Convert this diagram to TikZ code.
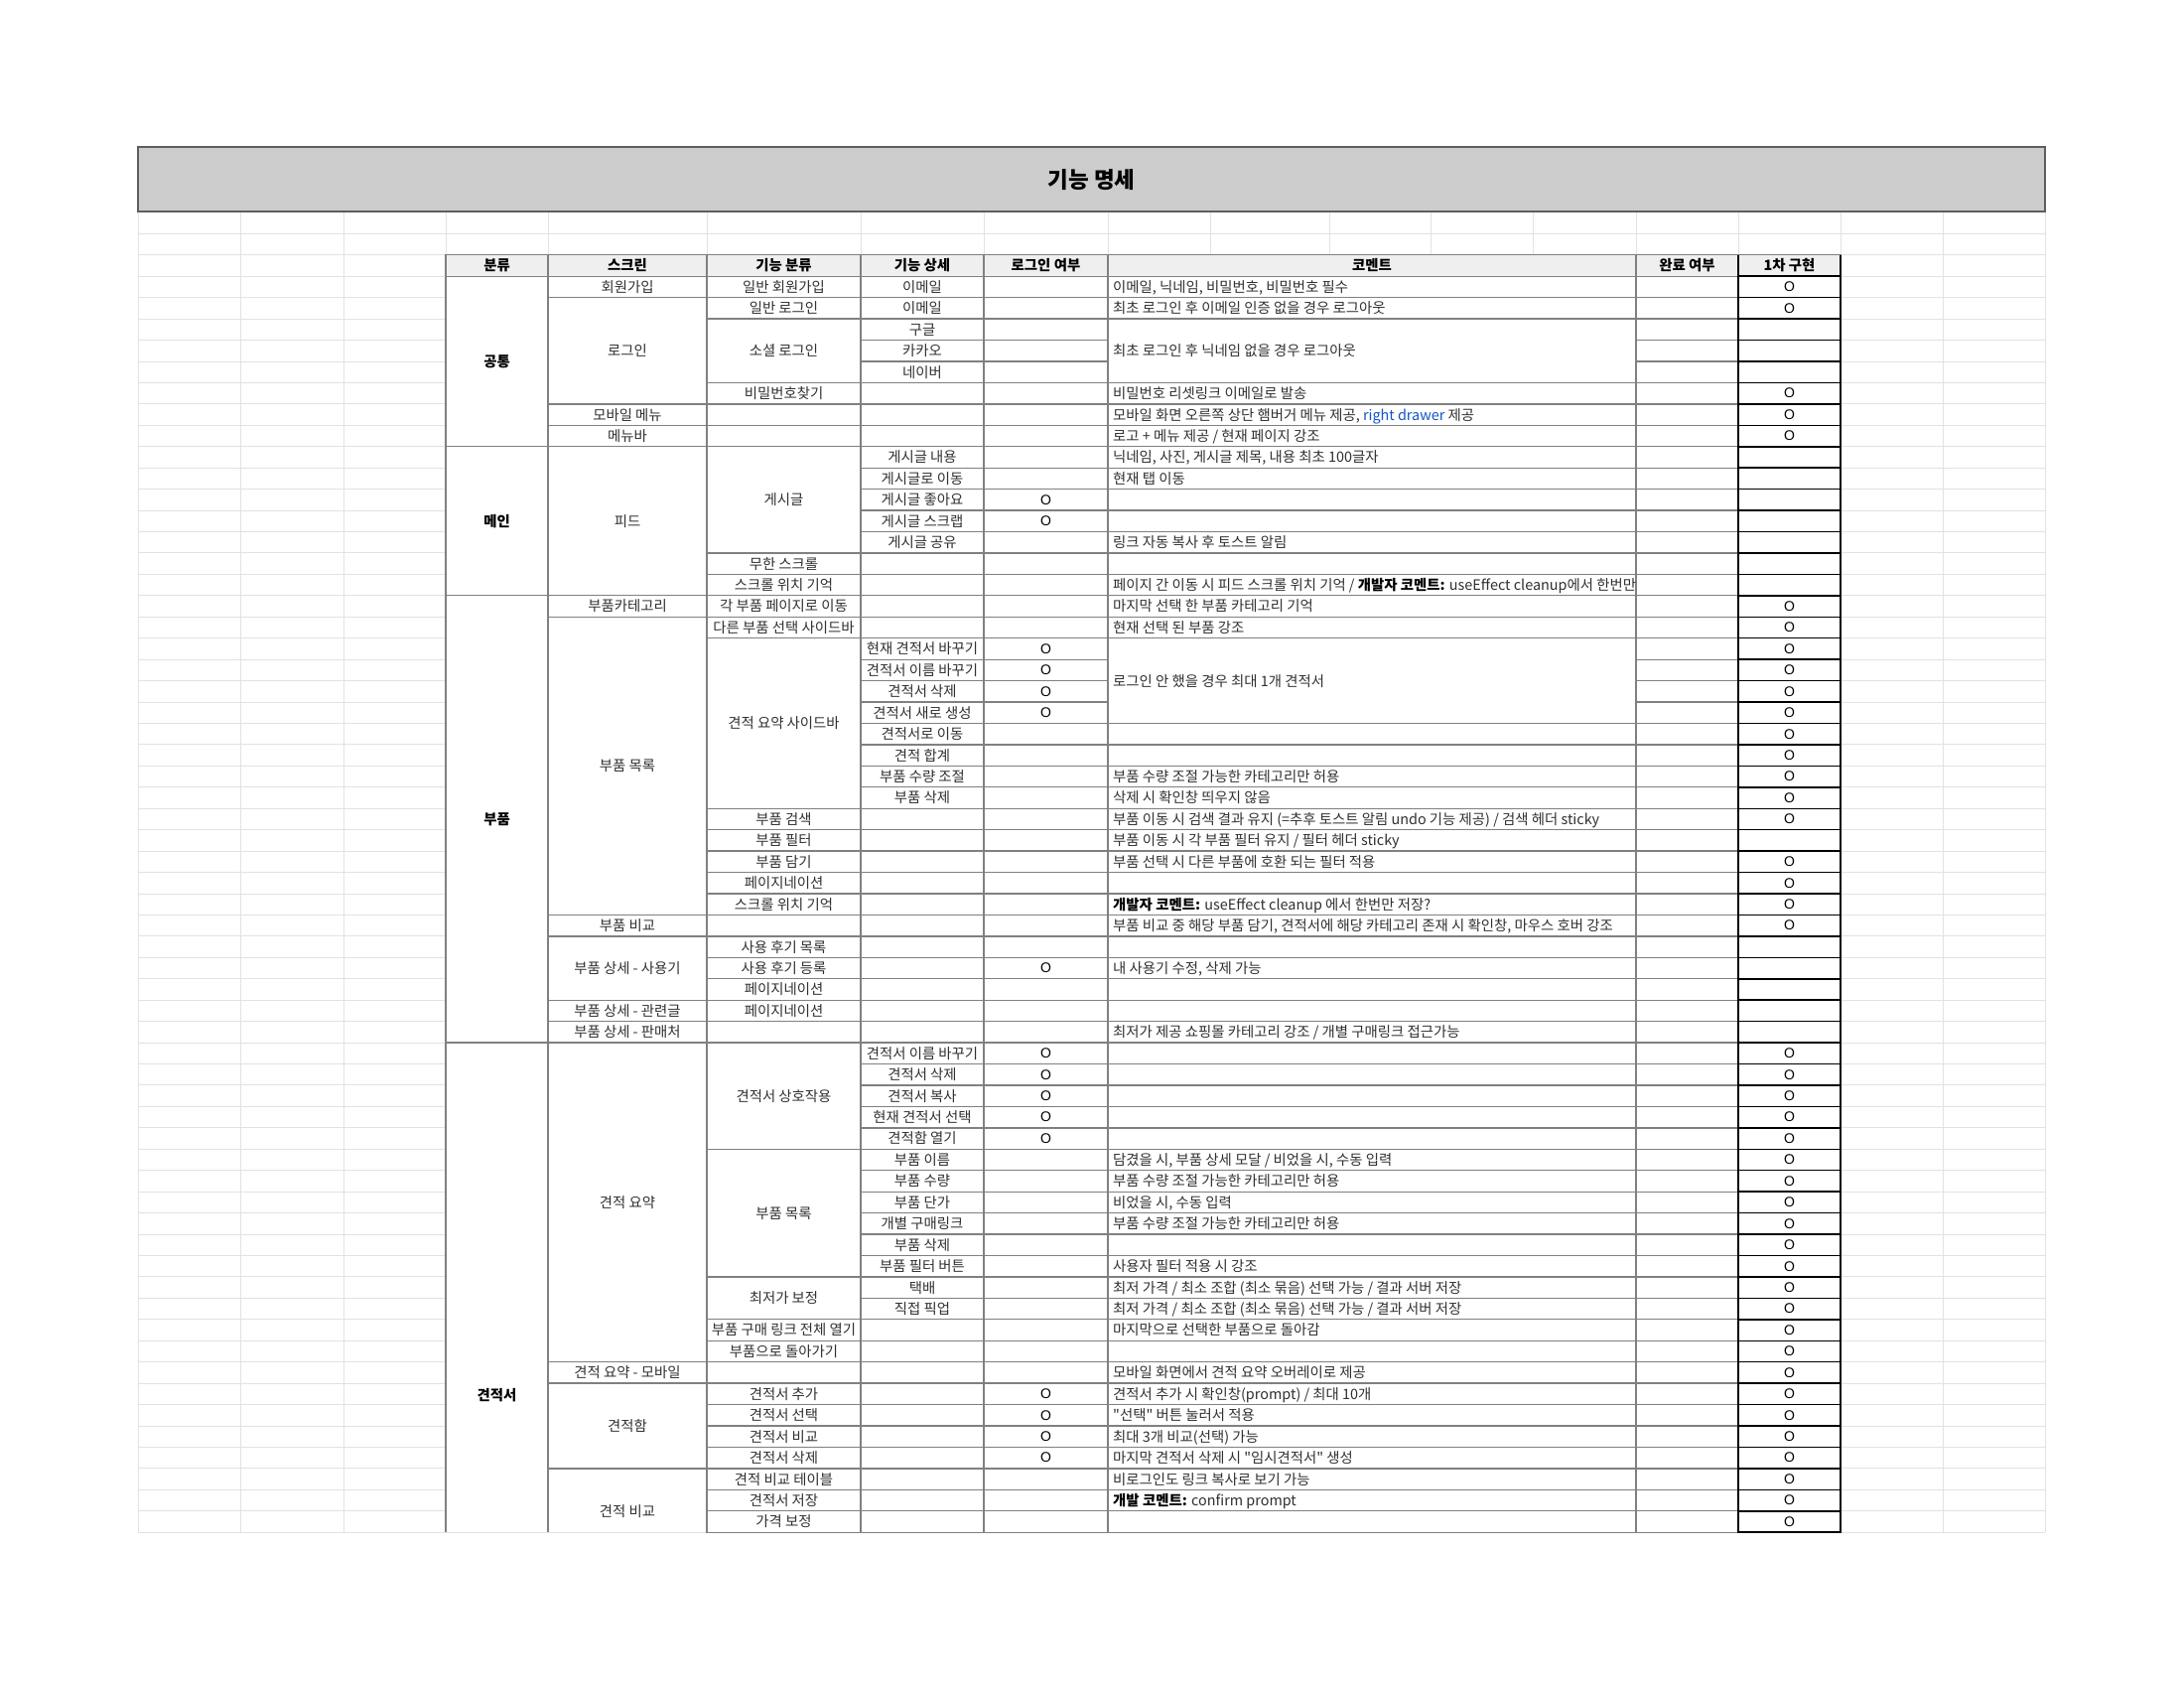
\documentclass[tikz,border=0pt]{standalone}
\usepackage{fontspec}
\setmainfont{Noto Sans CJK KR}[Ligatures=TeXOff]
\newfontfamily\ofont{Liberation Sans}
\definecolor{gridc}{HTML}{E2E2E2}
\definecolor{tblc}{HTML}{808080}
\definecolor{hdrc}{HTML}{EFEFEF}
\definecolor{ttlc}{HTML}{CCCCCC}
\definecolor{ttlb}{HTML}{5E5E5E}
\definecolor{txtc}{HTML}{303030}
\definecolor{linkc}{HTML}{1155CC}
\def\RY#1{(256.8+(#1)*21.44)}
% centered cell: x1 x2 r1 r2 text
\newcommand\cc[5]{%
  \draw[tbl] (#1,{\RY{#3}}) rectangle (#2,{\RY{#4+1}});
  \node[ctext] (n#1x#3) at ({(#1+#2)/2},{\RY{(#3+#4+1)/2}}) {#5};
}
% open-bottom cell: x1 x2 r1 labely text
\newcommand\ccopen[5]{%
  \draw[tbl] (#1,1543.3) -- (#1,{\RY{#3}}) -- (#2,{\RY{#3}}) -- (#2,1543.3);
  \node[ctext] (n#1x#3) at ({(#1+#2)/2},#4) {#5};
}
% comment cell: r1 r2 text
\newcommand\cm[3]{%
  \draw[tbl] (1116,{\RY{#1}}) rectangle (1648,{\RY{#2+1}});
  \node[ltext] (m#1) at (1121,{\RY{(#1+#2+1)/2}}) {#3};
}
\begin{document}
\begin{tikzpicture}[x=1pt,y=-1pt,
  bggrid/.style={draw=gridc, line width=1pt},
  tbl/.style={draw=tblc, line width=1.3pt},
  blk/.style={draw=black, line width=1.5pt},
  ctext/.style={inner sep=0pt, text=txtc, font=\fontsize{14.4}{17}\selectfont, text height=12.2pt, text depth=1.4pt, anchor=center},
  ltext/.style={ctext, anchor=west},
  btext/.style={ctext, text=black, font=\fontsize{14.4}{17}\selectfont\bfseries},
  onode/.style={inner sep=0pt, text=black, font=\ofont\fontsize{14}{16}\selectfont, anchor=center}]
\useasboundingbox (0,0) rectangle (2200,1700);
\fill[white] (0,0) rectangle (2200,1700);
% background spreadsheet grid
\foreach \y in {213,235} \draw[bggrid] (139,\y) -- (2060,\y);
\foreach \k in {0,...,60} \draw[bggrid] (139,{\RY{\k}}) -- (2060,{\RY{\k}});
\foreach \x in {139,242,346,449,552,712,867,991,1116,1219,1339,1441,1544,1648,1751,1854,1957,2060}
  \draw[bggrid] (\x,213) -- (\x,1543.3);
% title
\draw[fill=ttlc, draw=ttlb, line width=2pt] (139,148) rectangle (2060,213);
\node[inner sep=0pt, text=black, font=\fontsize{22.5}{26}\selectfont\bfseries] (title) at (1099.5,181) {기능 명세};
% table area
\fill[white] (449,256.8) rectangle (1854,1543.3);
\fill[hdrc] (449,256.8) rectangle (1854,{\RY{1}});
\foreach \a/\b/\t in {449/552/분류, 552/712/스크린, 712/867/기능 분류, 867/991/기능 상세, 991/1116/로그인 여부, 1116/1648/코멘트, 1648/1751/완료 여부, 1751/1854/1차 구현} {
  \draw[tbl] (\a,256.8) rectangle (\b,{\RY{1}});
  \node[btext] (h\a) at ({(\a+\b)/2},{\RY{0.5}}) {\t};
}
% individual-row columns
\foreach \r in {1,...,59} {
  \draw[tbl] (867,{\RY{\r}}) rectangle (991,{\RY{\r+1}});
  \draw[tbl] (991,{\RY{\r}}) rectangle (1116,{\RY{\r+1}});
  \draw[tbl] (1648,{\RY{\r}}) rectangle (1751,{\RY{\r+1}});
}
% 분류
\cc{449}{552}{1}{8}{\bfseries\color{black}공통}
\cc{449}{552}{9}{15}{\bfseries\color{black}메인}
\cc{449}{552}{16}{36}{\bfseries\color{black}부품}
\ccopen{449}{552}{37}{1405}{\bfseries\color{black}견적서}
% 스크린
\cc{552}{712}{1}{1}{회원가입}
\cc{552}{712}{2}{6}{로그인}
\cc{552}{712}{7}{7}{모바일 메뉴}
\cc{552}{712}{8}{8}{메뉴바}
\cc{552}{712}{9}{15}{피드}
\cc{552}{712}{16}{16}{부품카테고리}
\cc{552}{712}{17}{30}{부품 목록}
\cc{552}{712}{31}{31}{부품 비교}
\cc{552}{712}{32}{34}{부품 상세 - 사용기}
\cc{552}{712}{35}{35}{부품 상세 - 관련글}
\cc{552}{712}{36}{36}{부품 상세 - 판매처}
\cc{552}{712}{37}{51}{견적 요약}
\cc{552}{712}{52}{52}{견적 요약 - 모바일}
\cc{552}{712}{53}{56}{견적함}
\ccopen{552}{712}{57}{1521.7}{견적 비교}
% 기능 분류
\cc{712}{867}{1}{1}{일반 회원가입}
\cc{712}{867}{2}{2}{일반 로그인}
\cc{712}{867}{3}{5}{소셜 로그인}
\cc{712}{867}{6}{6}{비밀번호찾기}
\cc{712}{867}{7}{7}{}
\cc{712}{867}{8}{8}{}
\cc{712}{867}{9}{13}{게시글}
\cc{712}{867}{14}{14}{무한 스크롤}
\cc{712}{867}{15}{15}{스크롤 위치 기억}
\cc{712}{867}{16}{16}{각 부품 페이지로 이동}
\cc{712}{867}{17}{17}{다른 부품 선택 사이드바}
\cc{712}{867}{18}{25}{견적 요약 사이드바}
\cc{712}{867}{26}{26}{부품 검색}
\cc{712}{867}{27}{27}{부품 필터}
\cc{712}{867}{28}{28}{부품 담기}
\cc{712}{867}{29}{29}{페이지네이션}
\cc{712}{867}{30}{30}{스크롤 위치 기억}
\cc{712}{867}{31}{31}{}
\cc{712}{867}{32}{32}{사용 후기 목록}
\cc{712}{867}{33}{33}{사용 후기 등록}
\cc{712}{867}{34}{34}{페이지네이션}
\cc{712}{867}{35}{35}{페이지네이션}
\cc{712}{867}{36}{36}{}
\cc{712}{867}{37}{41}{견적서 상호작용}
\cc{712}{867}{42}{47}{부품 목록}
\cc{712}{867}{48}{49}{최저가 보정}
\cc{712}{867}{50}{50}{부품 구매 링크 전체 열기}
\cc{712}{867}{51}{51}{부품으로 돌아가기}
\cc{712}{867}{52}{52}{}
\cc{712}{867}{53}{53}{견적서 추가}
\cc{712}{867}{54}{54}{견적서 선택}
\cc{712}{867}{55}{55}{견적서 비교}
\cc{712}{867}{56}{56}{견적서 삭제}
\cc{712}{867}{57}{57}{견적 비교 테이블}
\cc{712}{867}{58}{58}{견적서 저장}
\cc{712}{867}{59}{59}{가격 보정}
% 기능 상세
\foreach \r/\t in {1/이메일, 2/이메일, 3/구글, 4/카카오, 5/네이버, 9/게시글 내용, 10/게시글로 이동, 11/게시글 좋아요, 12/게시글 스크랩, 13/게시글 공유, 18/현재 견적서 바꾸기, 19/견적서 이름 바꾸기, 20/견적서 삭제, 21/견적서 새로 생성, 22/견적서로 이동, 23/견적 합계, 24/부품 수량 조절, 25/부품 삭제, 37/견적서 이름 바꾸기, 38/견적서 삭제, 39/견적서 복사, 40/현재 견적서 선택, 41/견적함 열기, 42/부품 이름, 43/부품 수량, 44/부품 단가, 45/개별 구매링크, 46/부품 삭제, 47/부품 필터 버튼, 48/택배, 49/직접 픽업}
  \node[ctext] (d\r) at (929,{\RY{\r+0.5}}) {\t};
% 로그인 여부
\foreach \r in {11,12,18,19,20,21,33,37,38,39,40,41,53,54,55,56}
  \node[onode] (g\r) at (1053.5,{\RY{\r+0.5}}) {O};
% 코멘트
\cm{1}{1}{이메일, 닉네임, 비밀번호, 비밀번호 필수}
\cm{2}{2}{최초 로그인 후 이메일 인증 없을 경우 로그아웃}
\cm{3}{5}{최초 로그인 후 닉네임 없을 경우 로그아웃}
\cm{6}{6}{비밀번호 리셋링크 이메일로 발송}
\cm{7}{7}{모바일 화면 오른쪽 상단 햄버거 메뉴 제공, {\color{linkc}\underline{right drawer}} 제공}
\cm{8}{8}{로고 + 메뉴 제공 / 현재 페이지 강조}
\cm{9}{9}{닉네임, 사진, 게시글 제목, 내용 최초 100글자}
\cm{10}{10}{현재 탭 이동}
\cm{11}{11}{}
\cm{12}{12}{}
\cm{13}{13}{링크 자동 복사 후 토스트 알림}
\cm{14}{14}{}
\draw[tbl] (1116,{\RY{15}}) rectangle (1648,{\RY{16}});
\begin{scope}
  \clip (1116,{\RY{15}}) rectangle (1647,{\RY{16}});
  \node[ltext] (m15) at (1121,{\RY{15.5}}) {페이지 간 이동 시 피드 스크롤 위치 기억 / {\bfseries\color{black}개발자 코멘트:} useEffect cleanup에서 한번만 저장?};
\end{scope}
\cm{16}{16}{마지막 선택 한 부품 카테고리 기억}
\cm{17}{17}{현재 선택 된 부품 강조}
\cm{18}{21}{로그인 안 했을 경우 최대 1개 견적서}
\cm{22}{22}{}
\cm{23}{23}{}
\cm{24}{24}{부품 수량 조절 가능한 카테고리만 허용}
\cm{25}{25}{삭제 시 확인창 띄우지 않음}
\cm{26}{26}{부품 이동 시 검색 결과 유지 (=추후 토스트 알림 undo 기능 제공) / 검색 헤더 sticky}
\cm{27}{27}{부품 이동 시 각 부품 필터 유지 / 필터 헤더 sticky}
\cm{28}{28}{부품 선택 시 다른 부품에 호환 되는 필터 적용}
\cm{29}{29}{}
\cm{30}{30}{{\bfseries\color{black}개발자 코멘트:} useEffect cleanup 에서 한번만 저장?}
\cm{31}{31}{부품 비교 중 해당 부품 담기, 견적서에 해당 카테고리 존재 시 확인창, 마우스 호버 강조}
\cm{32}{32}{}
\cm{33}{33}{내 사용기 수정, 삭제 가능}
\cm{34}{34}{}
\cm{35}{35}{}
\cm{36}{36}{최저가 제공 쇼핑몰 카테고리 강조 / 개별 구매링크 접근가능}
\cm{37}{37}{}
\cm{38}{38}{}
\cm{39}{39}{}
\cm{40}{40}{}
\cm{41}{41}{}
\cm{42}{42}{담겼을 시, 부품 상세 모달 / 비었을 시, 수동 입력}
\cm{43}{43}{부품 수량 조절 가능한 카테고리만 허용}
\cm{44}{44}{비었을 시, 수동 입력}
\cm{45}{45}{부품 수량 조절 가능한 카테고리만 허용}
\cm{46}{46}{}
\cm{47}{47}{사용자 필터 적용 시 강조}
\cm{48}{48}{최저 가격 / 최소 조합 (최소 묶음) 선택 가능 / 결과 서버 저장}
\cm{49}{49}{최저 가격 / 최소 조합 (최소 묶음) 선택 가능 / 결과 서버 저장}
\cm{50}{50}{마지막으로 선택한 부품으로 돌아감}
\cm{51}{51}{}
\cm{52}{52}{모바일 화면에서 견적 요약 오버레이로 제공}
\cm{53}{53}{견적서 추가 시 확인창(prompt) / 최대 10개}
\cm{54}{54}{"선택" 버튼 눌러서 적용}
\cm{55}{55}{최대 3개 비교(선택) 가능}
\cm{56}{56}{마지막 견적서 삭제 시 "임시견적서" 생성}
\cm{57}{57}{비로그인도 링크 복사로 보기 가능}
\cm{58}{58}{{\bfseries\color{black}개발 코멘트:} confirm prompt}
\cm{59}{59}{}
% 1차 구현 column (black borders)
\draw[blk] (1751,256.8) -- (1751,{\RY{1}});
\draw[blk] (1854,256.8) -- (1854,{\RY{1}});
\foreach \r in {1,...,59}
  \draw[blk] (1751,{\RY{\r}}) rectangle (1854,{\RY{\r+1}});
\foreach \r in {1,2,6,7,8,16,17,18,19,20,21,22,23,24,25,26,28,29,30,31,37,38,39,40,41,42,43,44,45,46,47,48,49,50,51,52,53,54,55,56,57,58,59}
  \node[onode] (f\r) at (1802.5,{\RY{\r+0.5}}) {O};
\end{tikzpicture}
\end{document}
